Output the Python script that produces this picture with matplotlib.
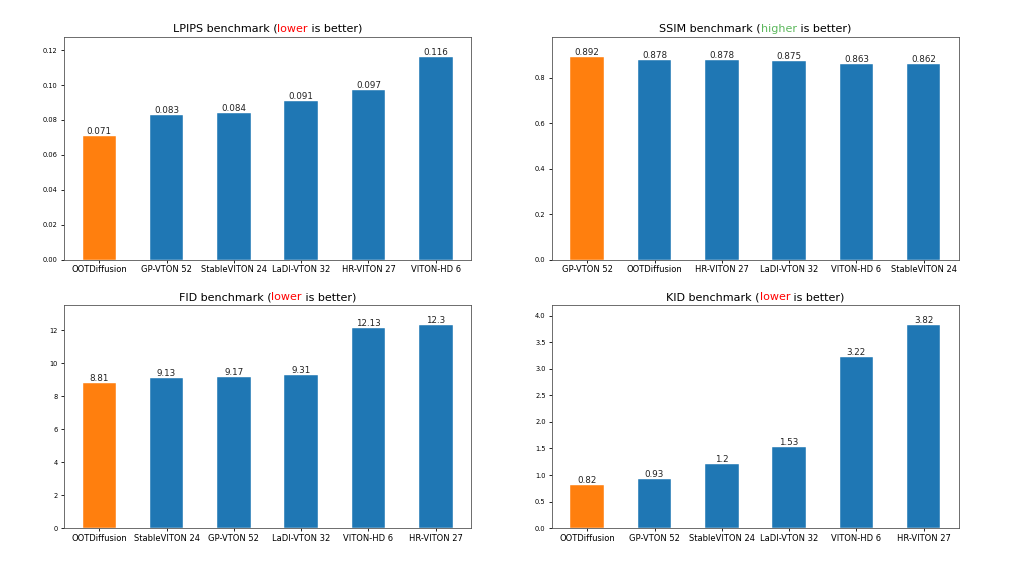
import matplotlib
matplotlib.use("Agg")
import matplotlib.pyplot as plt

# LPIPS (lower is better)
lpips_names = ["OOTDiffusion", "GP-VTON 52", "StableVITON 24", "LaDI-VTON 32", "HR-VITON 27", "VITON-HD 6"]
lpips_vals = [0.071, 0.083, 0.084, 0.091, 0.097, 0.116]

# SSIM (higher is better)
ssim_names = ["GP-VTON 52", "OOTDiffusion", "HR-VITON 27", "LaDI-VTON 32", "VITON-HD 6", "StableVITON 24"]
ssim_vals = [0.892, 0.878, 0.878, 0.875, 0.863, 0.862]

# FID (lower is better)
fid_names = ["OOTDiffusion", "StableVITON 24", "GP-VTON 52", "LaDI-VTON 32", "VITON-HD 6", "HR-VITON 27"]
fid_vals = [8.81, 9.13, 9.17, 9.31, 12.13, 12.3]

# KID (lower is better)
kid_names = ["OOTDiffusion", "GP-VTON 52", "StableVITON 24", "LaDI-VTON 32", "VITON-HD 6", "HR-VITON 27"]
kid_vals = [0.82, 0.93, 1.2, 1.53, 3.22, 3.82]

BLUE = "#1f77b4"
ORANGE = "#ff7f0e"
RED = "red"
GREEN = "#5cb85c"


def colored_title(fig, ax, metric, word, color):
    parts = [(metric + " benchmark (", "black"), (word, color), (" is better)", "black")]
    renderer = fig.canvas.get_renderer()
    texts = []
    for s, c in parts:
        t = ax.text(0, 0, s, color=c, fontsize=8, transform=ax.transAxes,
                    ha="left", va="baseline")
        texts.append(t)
    widths = [t.get_window_extent(renderer).width for t in texts]
    total = sum(widths)
    bbox = ax.get_window_extent(renderer)
    x0 = bbox.x0 + (bbox.width - total) / 2
    y0 = bbox.y1 + 5
    inv = ax.transAxes.inverted()
    for t, w in zip(texts, widths):
        t.set_position(inv.transform((x0, y0)))
        x0 += w


def bench(fig, ax, names, vals, metric, word, color):
    colors = [ORANGE] + [BLUE] * (len(vals) - 1)
    bars = ax.bar(names, vals, width=0.5, color=colors, edgecolor="white", linewidth=0.3)
    for b, v in zip(bars, vals):
        ax.text(b.get_x() + b.get_width() / 2, v, "%g" % v, ha="center", va="bottom",
                fontsize=6.3, color="#222222")
    ax.set_ylim(0, max(vals) * 1.1)
    ax.tick_params(axis="x", labelsize=6, length=2.5, width=0.6, pad=1.5)
    ax.tick_params(axis="y", labelsize=4.8, length=2.5, width=0.6, pad=2)
    for sp in ax.spines.values():
        sp.set_linewidth(0.6)
        sp.set_color("#555555")
    colored_title(fig, ax, metric, word, color)


fig = plt.figure(figsize=(10.24, 5.66), dpi=100)
ax1 = fig.add_axes([0.0625, 0.541, 0.3975, 0.394])
ax2 = fig.add_axes([0.539, 0.541, 0.3975, 0.394])
ax3 = fig.add_axes([0.0625, 0.067, 0.3975, 0.394])
ax4 = fig.add_axes([0.539, 0.067, 0.3975, 0.394])

fig.canvas.draw()

bench(fig, ax1, lpips_names, lpips_vals, "LPIPS", "lower", RED)
bench(fig, ax2, ssim_names, ssim_vals, "SSIM", "higher", GREEN)
bench(fig, ax3, fid_names, fid_vals, "FID", "lower", RED)
bench(fig, ax4, kid_names, kid_vals, "KID", "lower", RED)

fig.savefig("out.png", dpi=100)
